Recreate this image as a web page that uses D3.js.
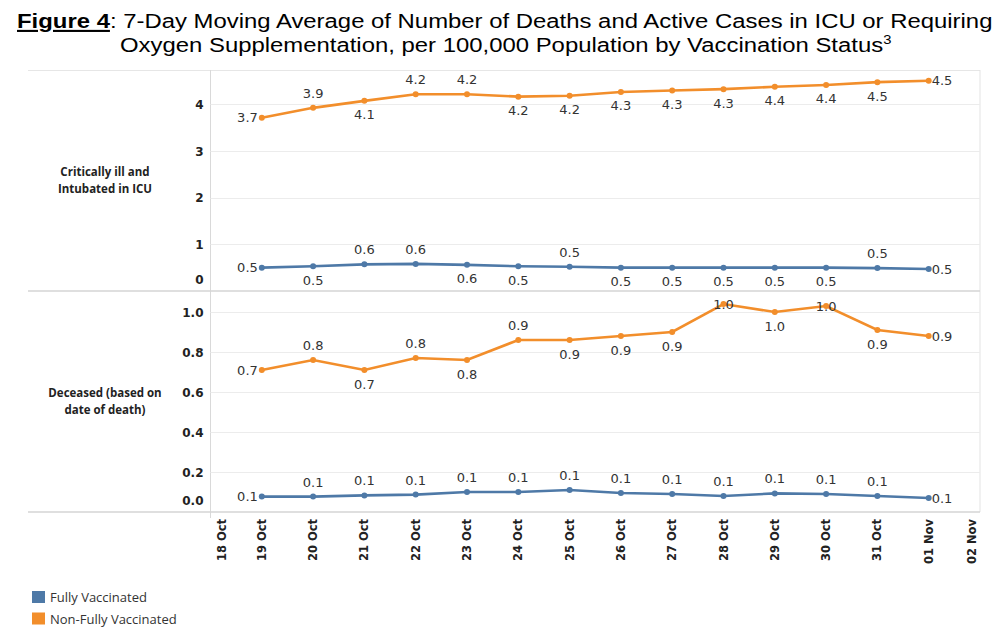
<!DOCTYPE html>
<html>
<head>
<meta charset="utf-8">
<script src="https://cdn.jsdelivr.net/npm/d3@7"></script>
<style>body{margin:0;background:#fff}</style>
</head>
<body>
<svg width="1000" height="633"></svg>
<script>
// data
var dates = ["2021-10-19","2021-10-20","2021-10-21","2021-10-22","2021-10-23","2021-10-24","2021-10-25",
	"2021-10-26","2021-10-27","2021-10-28","2021-10-29","2021-10-30","2021-10-31","2021-11-01"];
var tickDates = ["2021-10-18","2021-10-19","2021-10-20","2021-10-21","2021-10-22","2021-10-23","2021-10-24","2021-10-25",
	"2021-10-26","2021-10-27","2021-10-28","2021-10-29","2021-10-30","2021-10-31","2021-11-01","2021-11-02"];
var icuFully = [0.50, 0.53, 0.57, 0.58, 0.56, 0.53, 0.52, 0.50, 0.50, 0.50, 0.50, 0.50, 0.49, 0.47];
var icuNonFully = [3.71, 3.92, 4.07, 4.21, 4.21, 4.16, 4.18, 4.26, 4.29, 4.32, 4.37, 4.41, 4.47, 4.50];
var deathFully = [0.077, 0.077, 0.083, 0.087, 0.10, 0.10, 0.11, 0.095, 0.09, 0.08, 0.093, 0.09, 0.08, 0.07];
var deathNonFully = [0.71, 0.76, 0.71, 0.77, 0.76, 0.86, 0.86, 0.88, 0.90, 1.04, 1.00, 1.03, 0.91, 0.88];
var icuTicks = [0, 1, 2, 3, 4];
var deathTicks = [0, 0.2, 0.4, 0.6, 0.8, 1.0];
var seriesNames = ["Fully Vaccinated", "Non-Fully Vaccinated"];
var colors = ["#4e79a7", "#f28e2b"];

// where each value label sits: L left, R right, A above, B below, C on the point
var icuFullyPos     = "LBAABBABBBBBAR".split("");
var icuNonFullyPos  = "LABAABBBBBBBBR".split("");
var deathFullyPos   = "LAAAAAAAAAAAAR".split("");
var deathNonFullyPos= "LABABABBBCBCBR".split("");

var parse = d3.timeParse("%Y-%m-%d"),
	svg = d3.select("svg"),
	left = 210.5, right = 980, frameLeft = 28;

var x = d3.scaleTime()
	.domain([parse(tickDates[0]), parse(tickDates[tickDates.length - 1])])
	.range([left, right]);

var panels = [
	{label: ["Critically ill and", "Intubated in ICU"], top: 70, bottom: 291, max: 4.73, ticks: icuTicks, fmt: d3.format("d"),
		series: [{v: icuFully, pos: icuFullyPos, c: 0}, {v: icuNonFully, pos: icuNonFullyPos, c: 1}]},
	{label: ["Deceased (based on", "date of death)"], top: 291, bottom: 512, max: 1.105, ticks: deathTicks, fmt: d3.format(".1f"),
		series: [{v: deathFully, pos: deathFullyPos, c: 0}, {v: deathNonFully, pos: deathNonFullyPos, c: 1}]}
];

// title
var t1 = svg.append("text").attr("font-family", "Liberation Sans, Arial, sans-serif").attr("font-size", 21).attr("fill", "#000");
t1.append("tspan").attr("font-weight", "bold").attr("text-decoration", "underline").text("Figure 4");
t1.append("tspan").text(": 7-Day Moving Average of Number of Deaths and Active Cases in ICU or Requiring");
var sx = 976 / t1.node().getComputedTextLength();
t1.attr("transform", "translate(17,28) scale(" + sx + ",1)");

var t2 = svg.append("text").attr("font-family", "Liberation Sans, Arial, sans-serif").attr("font-size", 21).attr("fill", "#000")
	.attr("transform", "translate(120,52) scale(" + sx + ",1)");
t2.append("tspan").text("Oxygen Supplementation, per 100,000 Population by Vaccination Status");
t2.append("tspan").attr("font-size", 13).attr("dy", -8).text("3");

// frame
var frame = svg.append("g").attr("fill", "none");
frame.append("line").attr("x1", frameLeft).attr("x2", right).attr("y1", 70.5).attr("y2", 70.5).attr("stroke", "#e6e6e6");
frame.append("line").attr("x1", right).attr("x2", right).attr("y1", 70).attr("y2", 512).attr("stroke", "#e3e3e3");
frame.append("line").attr("x1", left).attr("x2", left).attr("y1", 70).attr("y2", 518).attr("stroke", "#d9d9d9");

panels.forEach(function(p) {
	var y = d3.scaleLinear().domain([0, p.max]).range([p.bottom, p.top]);
	var g = svg.append("g");

	// gridlines
	g.selectAll(".grid").data(p.ticks.filter(function(d) { return d > 0; })).enter().append("line")
		.attr("x1", left).attr("x2", right)
		.attr("y1", function(d) { return Math.round(y(d)) + 0.5; }).attr("y2", function(d) { return Math.round(y(d)) + 0.5; })
		.attr("stroke", "#ececec");

	// y axis labels
	var ax = g.append("g").attr("transform", "translate(" + (left - 7) + ",0)")
		.call(d3.axisLeft(y).tickValues(p.ticks).tickFormat(p.fmt).tickSize(0).tickPadding(0));
	ax.select(".domain").remove();
	ax.selectAll("text").attr("font-family", "DejaVu Sans, sans-serif").attr("font-weight", "bold")
		.attr("font-size", 12).attr("fill", "#222")
		.attr("dy", function(d) { return d === 0 ? "-0.6em" : "0.35em"; });

	// row header
	g.append("text").attr("text-anchor", "middle").attr("font-family", "Open Sans, sans-serif").attr("font-weight", "bold")
		.attr("font-size", 11.5).attr("fill", "#222")
		.selectAll("tspan").data(p.label).enter().append("tspan")
		.attr("x", 105).attr("y", function(d, i) { return (p.top + p.bottom) / 2 - 4.5 + i * 17; })
		.text(function(d) { return d; });

	// bottom border of panel
	g.append("line").attr("x1", frameLeft).attr("x2", right).attr("y1", p.bottom).attr("y2", p.bottom)
		.attr("stroke", "#d4d4d4").attr("stroke-width", 1.6);

	p.series.forEach(function(s) {
		var pts = dates.map(function(d, i) { return {date: parse(d), v: s.v[i], pos: s.pos[i]}; });
		var line = d3.line().x(function(d) { return x(d.date); }).y(function(d) { return y(d.v); });
		g.append("path").datum(pts).attr("d", line).attr("fill", "none")
			.attr("stroke", colors[s.c]).attr("stroke-width", 2.6);
		g.selectAll(null).data(pts).enter().append("circle")
			.attr("cx", function(d) { return x(d.date); }).attr("cy", function(d) { return y(d.v); })
			.attr("r", 3).attr("fill", colors[s.c]);
		g.selectAll(null).data(pts).enter().append("text")
			.attr("font-family", "DejaVu Sans, sans-serif").attr("font-size", 13).attr("fill", "#333")
			.attr("text-anchor", function(d) { return d.pos === "L" ? "end" : d.pos === "R" ? "start" : "middle"; })
			.attr("x", function(d) { var px = x(d.date); return d.pos === "L" ? px - 4 : d.pos === "R" ? px + 3 : px; })
			.attr("y", function(d) {
				var py = y(d.v);
				if (d.pos === "A") return py - 10;
				if (d.pos === "B") return py + 18.5;
				return py + 4.5;
			})
			.text(function(d) { return d3.format(".1f")(d.v); });
	});
});

// x axis labels
var xl = svg.append("g").selectAll("text").data(tickDates).enter().append("text")
	.attr("transform", function(d, i) {
		var px = x(parse(d));
		if (i === 0) px += 11;
		if (i === tickDates.length - 1) px -= 8;
		return "translate(" + px + ",519) rotate(-90)";
	})
	.attr("dy", "0.35em").attr("text-anchor", "end")
	.attr("font-family", "DejaVu Sans, sans-serif").attr("font-weight", "bold").attr("font-size", 11.5).attr("fill", "#222")
	.text(function(d) { return d3.timeFormat("%d %b")(parse(d)); });

// legend
var lg = svg.append("g").selectAll("g").data(seriesNames).enter().append("g")
	.attr("transform", function(d, i) { return "translate(32," + (591 + i * 21.5) + ")"; });
lg.append("rect").attr("width", 13).attr("height", 12).attr("fill", function(d, i) { return colors[i]; });
lg.append("text").attr("x", 18).attr("y", 11).attr("font-family", "Open Sans, sans-serif").attr("font-size", 13)
	.attr("fill", "#333").text(function(d) { return d; });
</script>
</body>
</html>
